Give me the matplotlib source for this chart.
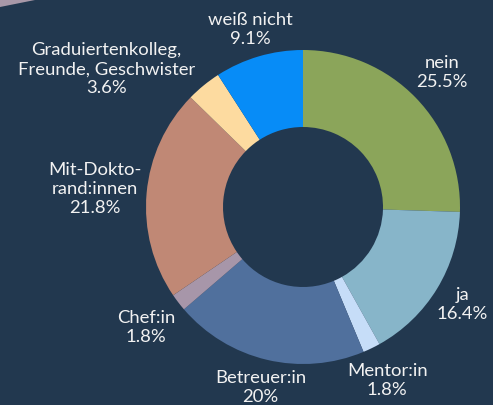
import numpy as np
import matplotlib.pyplot as plt
from matplotlib.patches import Polygon

labels = ['nein', 'ja', 'Mentor:in', 'Betreuer:in', 'Chef:in',
          'Mit-Dokto-\nrand:innen', 'Graduiertenkolleg,\nFreunde, Geschwister', 'weiß nicht']
values = [25.5, 16.4, 1.8, 20, 1.8, 21.8, 3.6, 9.1]
pct_text = ['25.5%', '16.4%', '1.8%', '20%', '1.8%', '21.8%', '3.6%', '9.1%']
colors = ['#8BA55A', '#87B5C9', '#C6DDF8', '#50709D', '#A796A9',
          '#C08875', '#FDDBA0', '#078CF7']

bg = '#22384F'
plt.rcParams['font.family'] = ['Lato', 'DejaVu Sans']

fig = plt.figure(figsize=(4.93, 4.05), dpi=100, facecolor=bg)
ax = fig.add_axes([0, 0, 1, 1])
ax.set_facecolor(bg)

# small decorative shape in the top-left corner
ax.add_patch(Polygon([(0, 405), (35, 405), (0, 398)], closed=True,
                     color='#A898A8', lw=0))

cx, cy, R = 303, 198, 157
wedges, _ = ax.pie(values, colors=colors, startangle=90, counterclock=False,
                   center=(cx, cy), radius=R, frame=True,
                   wedgeprops=dict(width=77, linewidth=0))
ax.set_xlim(0, 493)
ax.set_ylim(0, 405)
ax.axis('off')

# label distance per slice (as fraction of radius)
dist = [1.23, 1.19, 1.23, 1.18, 1.26, 1.33, 1.53, 1.18]
for i, w in enumerate(wedges):
    ang = np.deg2rad((w.theta1 + w.theta2) / 2)
    if i == 6:
        ang = np.deg2rad(145)
    x = cx + dist[i] * R * np.cos(ang)
    y = cy + dist[i] * R * np.sin(ang)
    ax.text(x, y, labels[i] + '\n' + pct_text[i], ha='center', va='center',
            multialignment='center', color='#F2F2F2', fontsize=13.3,
            linespacing=1.22)

fig.savefig('out.png', dpi=100, facecolor=bg)
